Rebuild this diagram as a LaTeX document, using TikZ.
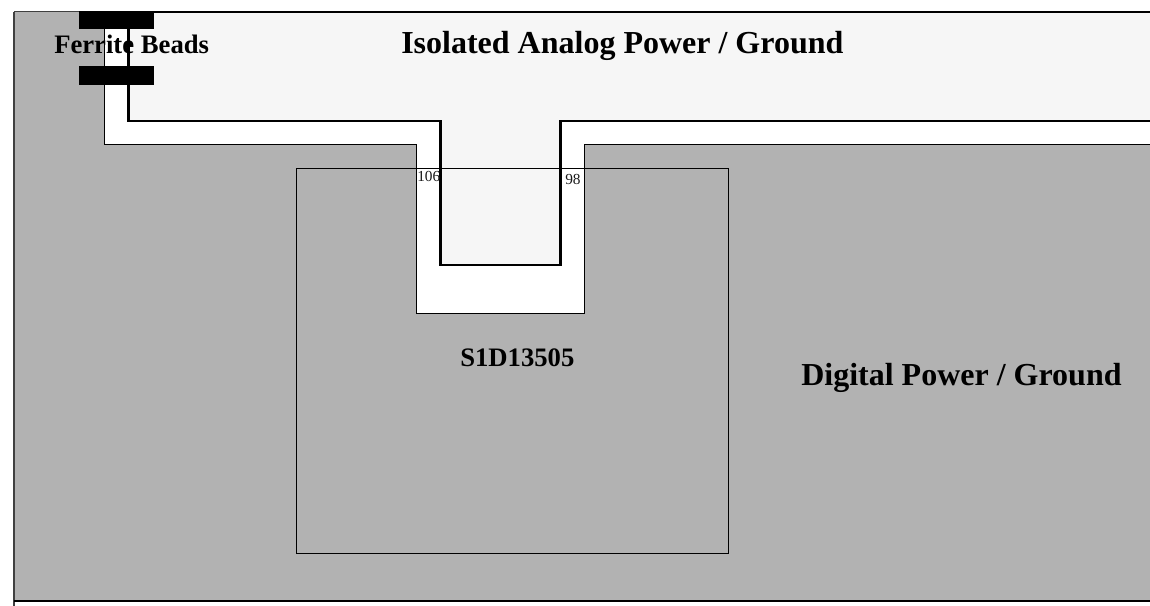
\documentclass[tikz,border=0pt]{standalone}
\usepackage{fontspec}
\setmainfont{Liberation Serif}
\definecolor{plane}{HTML}{B2B2B2}
\definecolor{analog}{HTML}{F6F6F6}
\tikzset{
  thinline/.style={draw=black,line width=0.75pt},
  thickline/.style={draw=black,line width=2pt},
  bead/.style={fill=black,draw=none},
  biglabel/.style={font=\fontsize{20pt}{20pt}\selectfont\bfseries,inner sep=0pt,anchor=base west},
  titlelabel/.style={font=\fontsize{24pt}{24pt}\selectfont\bfseries,inner sep=0pt,anchor=base west},
  pinlabel/.style={font=\fontsize{11.5pt}{11.5pt}\selectfont,inner sep=0pt,anchor=base west,text=black!90}
}
\begin{document}
\begin{tikzpicture}[x=0.75pt,y=-0.75pt]
\useasboundingbox (0,0) rectangle (1150,606);
\fill[white] (0,0) rectangle (1150,606);
% digital plane
\fill[plane] (14,12) rectangle (1150,601);
% moat
\fill[white] (104.6,12) -- (104.6,145) -- (416.6,145) -- (416.6,313) -- (584.6,313) -- (584.6,145) -- (1150,145) -- (1150,12) -- cycle;
\draw[thinline] (104.6,29) -- (104.6,145) -- (416.6,145) -- (416.6,313) -- (584.6,313) -- (584.6,145) -- (1150,145);
% analog plane
\fill[analog] (128.5,12) -- (128.5,121) -- (440.5,121) -- (440.5,265) -- (560.5,265) -- (560.5,121) -- (1150,121) -- (1150,12) -- cycle;
% chip
\draw[thinline] (296.6,169) rectangle (728.6,553);
% analog outline
\draw[thickline] (1150,12) -- (128.5,12) -- (128.5,121) -- (440.5,121) -- (440.5,265) -- (560.5,265) -- (560.5,121) -- (1150,121);
% frame
\draw[draw=black!75,line width=1pt] (14,12) -- (14,606);
\draw[draw=black!75,line width=0.75pt] (14,12) -- (105,12);
\draw[draw=black,line width=1pt] (14,601) -- (1150,601);
% beads
\fill[bead] (79,11) rectangle (154,29);
\fill[bead] (79,66) rectangle (154,85);
% labels
\node[biglabel] (beads) at (54,53.5) {Ferrite Beads};
\node[titlelabel] (analogtitle) at (401,54) {Isolated Analog Power / Ground};
\node[titlelabel] (digitaltitle) at (801,385) {Digital Power / Ground};
\node[biglabel] (chip) at (460,366) {S1D13505};
\node[pinlabel] (pina) at (417,182) {106};
\node[pinlabel] (pinb) at (565,184.5) {98};
\end{tikzpicture}
\end{document}
